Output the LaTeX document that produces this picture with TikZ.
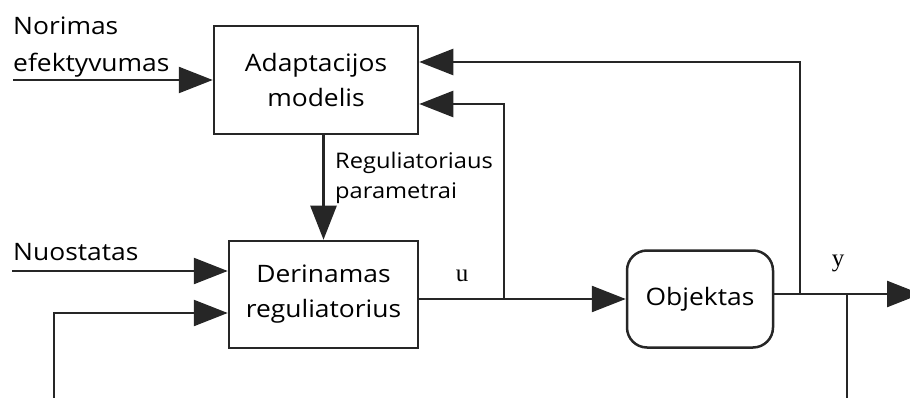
\documentclass[tikz,border=0pt]{standalone}
\usepackage{fontspec}
\setmainfont{Open Sans}[FakeStretch=1.1]
\newfontfamily\serifl{Liberation Serif}
\usetikzlibrary{arrows.meta}
\begin{document}
\begin{tikzpicture}[x=1pt,y=-1pt,
  line/.style={line width=2.5pt, draw=black!85},
  arr/.style={line, -{Triangle[length=34pt,width=26pt]}},
  blk/.style={draw=black!85, line width=2.5pt, fill=white, align=center,
    font=\fontsize{24}{35}\selectfont, inner sep=0pt},
  lbl/.style={font=\fontsize{24}{37}\selectfont, align=left, inner sep=0pt, anchor=north west},
  small/.style={font=\fontsize{21.5}{30}\selectfont, align=left, inner sep=0pt, anchor=north west},
  sig/.style={font=\serifl\fontsize{25}{30}\selectfont, inner sep=0pt, anchor=base}]
\useasboundingbox (0,0) rectangle (910,398);
% blocks
\node[blk, minimum width=204pt, minimum height=108pt] (adapt) at (316,80) {Adaptacijos\\modelis};
\node[blk, minimum width=189pt, minimum height=107pt] (reg) at (323.5,294.5) {Derinamas\\reguliatorius};
\node[blk, rounded corners=20pt, minimum width=146pt, minimum height=97pt] (obj) at (700,299) {Objektas};
% labels
\node[lbl] (tnor) at (13,17) {Norimas\\efektyvumas};
\node[lbl] (tnuo) at (13,243) {Nuostatas};
\node[small] (tpar) at (335,152) {Reguliatoriaus\\parametrai};
\node[sig] (tu) at (462,281) {u};
\node[sig] (ty) at (838,266) {y};
% coordinates
\coordinate (inA) at (13,80);
\coordinate (inN) at (12,271);
\coordinate (fbB) at (54,398);
\coordinate (fbC) at (54,313);
\coordinate (ub) at (504,299);
\coordinate (ut) at (504,104);
\coordinate (yo) at (772,294);
\coordinate (yb) at (800,294);
\coordinate (yt) at (800,62);
\coordinate (yb2) at (847,294);
\coordinate (yd) at (847,398);
\coordinate (yend) at (921,294);
% connectors
\draw[arr] (inA) -- (adapt.west);
\draw[arr] (adapt.south -| reg.north) -- (reg.north);
\draw[arr] (inN) -- (inN -| reg.west);
\draw[arr] (fbB) -- (fbC) -- (fbC -| reg.west);
\draw[arr] (reg.east |- obj.west) -- (obj.west);
\draw[arr] (ub) -- (ut) -- (ut -| adapt.east);
\draw[arr] (yb) -- (yt) -- (yt -| adapt.east);
\draw[arr] (yo) -- (yend);
\draw[line] (yb2) -- (yd);
\end{tikzpicture}
\end{document}
